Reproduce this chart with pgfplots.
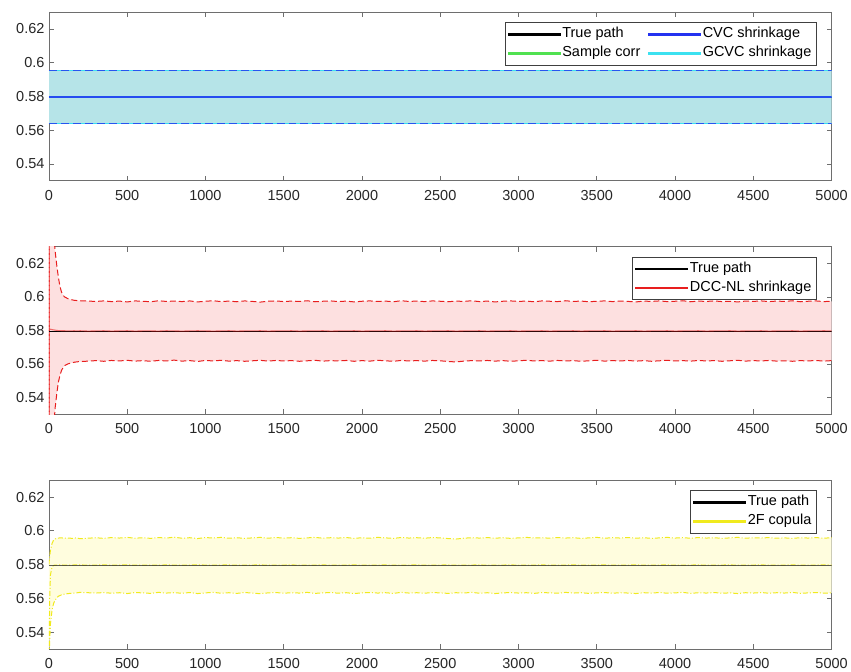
\documentclass[border=0pt]{standalone}
\usepackage{pgfplots}
\pgfplotsset{compat=1.18}
\usepackage{pgfplotstable}
\usepgfplotslibrary{fillbetween}
\usepackage{fontspec}
\setmainfont{Liberation Sans}

\definecolor{cvcblue}{RGB}{35,50,240}
\definecolor{gcvccyan}{RGB}{60,225,240}
\definecolor{samplegreen}{RGB}{80,225,80}
\definecolor{fillcyan}{RGB}{182,228,232}
\definecolor{dccred}{RGB}{232,30,30}
\definecolor{fillred}{RGB}{253,224,224}
\definecolor{copyel}{RGB}{240,234,30}
\definecolor{fillyel}{RGB}{255,253,222}
\definecolor{axgray}{RGB}{110,110,110}

% Panel 1: constant bands
\pgfplotstableread{
t up lo mid true
0 0.5952 0.5638 0.5796 0.5796
5000 0.5952 0.5638 0.5796 0.5796
}\cvcdata

% Panel 2: DCC-NL shrinkage
\pgfplotstableread{
t up lo mid
0 0.4000 0.7600 0.5810
2 0.8000 0.3600 0.5809
5 0.7200 0.4400 0.5808
10 0.6900 0.4700 0.5807
15 0.6700 0.4900 0.5806
20 0.6550 0.5040 0.5805
25 0.6450 0.5140 0.5804
30 0.6380 0.5220 0.5803
40 0.6270 0.5340 0.5802
50 0.6190 0.5420 0.5800
60 0.6120 0.5490 0.5799
70 0.6065 0.5530 0.5799
80 0.6030 0.5560 0.5798
90 0.6010 0.5578 0.5798
100 0.6000 0.5590 0.5798
120 0.5990 0.5600 0.5797
140 0.5984 0.5606 0.5797
160 0.5980 0.5610 0.5798
180 0.5978 0.5613 0.5797
200 0.5977 0.5614 0.5798
250 0.5975 0.5617 0.5796
300 0.5973 0.5620 0.5797
350 0.5976 0.5616 0.5798
400 0.5972 0.5621 0.5796
450 0.5975 0.5618 0.5797
500 0.5970 0.5622 0.5798
550 0.5976 0.5617 0.5796
600 0.5974 0.5620 0.5797
650 0.5971 0.5616 0.5797
700 0.5977 0.5621 0.5796
750 0.5973 0.5618 0.5798
800 0.5975 0.5623 0.5797
850 0.5972 0.5617 0.5796
900 0.5976 0.5620 0.5797
950 0.5970 0.5615 0.5798
1000 0.5974 0.5621 0.5797
1050 0.5977 0.5618 0.5796
1100 0.5972 0.5622 0.5797
1150 0.5975 0.5617 0.5798
1200 0.5971 0.5620 0.5796
1250 0.5976 0.5616 0.5797
1300 0.5973 0.5619 0.5797
1350 0.5969 0.5622 0.5798
1400 0.5974 0.5617 0.5796
1450 0.5976 0.5621 0.5797
1500 0.5972 0.5618 0.5797
1550 0.5975 0.5620 0.5798
1600 0.5973 0.5616 0.5796
1650 0.5977 0.5619 0.5797
1700 0.5971 0.5622 0.5797
1750 0.5974 0.5617 0.5798
1800 0.5976 0.5620 0.5796
1850 0.5972 0.5618 0.5797
1900 0.5975 0.5621 0.5797
1950 0.5970 0.5616 0.5798
2000 0.5974 0.5620 0.5796
2050 0.5976 0.5617 0.5797
2100 0.5973 0.5622 0.5797
2150 0.5975 0.5619 0.5798
2200 0.5971 0.5616 0.5796
2250 0.5977 0.5621 0.5797
2300 0.5973 0.5618 0.5797
2350 0.5975 0.5620 0.5798
2400 0.5972 0.5617 0.5796
2450 0.5976 0.5621 0.5797
2500 0.5974 0.5619 0.5797
2550 0.5971 0.5615 0.5798
2600 0.5975 0.5612 0.5796
2650 0.5973 0.5617 0.5797
2700 0.5977 0.5620 0.5797
2750 0.5972 0.5618 0.5798
2800 0.5975 0.5621 0.5796
2850 0.5970 0.5617 0.5797
2900 0.5974 0.5620 0.5797
2950 0.5976 0.5616 0.5798
3000 0.5973 0.5619 0.5796
3050 0.5975 0.5622 0.5797
3100 0.5971 0.5618 0.5797
3150 0.5976 0.5620 0.5798
3200 0.5974 0.5617 0.5796
3250 0.5972 0.5621 0.5797
3300 0.5977 0.5618 0.5797
3350 0.5973 0.5620 0.5798
3400 0.5975 0.5616 0.5796
3450 0.5971 0.5619 0.5797
3500 0.5974 0.5622 0.5797
3550 0.5976 0.5617 0.5798
3600 0.5972 0.5620 0.5796
3650 0.5975 0.5618 0.5797
3700 0.5973 0.5621 0.5797
3750 0.5970 0.5617 0.5798
3800 0.5975 0.5620 0.5796
3850 0.5973 0.5616 0.5797
3900 0.5976 0.5619 0.5797
3950 0.5972 0.5622 0.5798
4000 0.5974 0.5618 0.5796
4050 0.5977 0.5620 0.5797
4100 0.5971 0.5617 0.5797
4150 0.5975 0.5621 0.5798
4200 0.5973 0.5618 0.5796
4250 0.5976 0.5620 0.5797
4300 0.5972 0.5616 0.5797
4350 0.5974 0.5619 0.5798
4400 0.5970 0.5622 0.5796
4450 0.5975 0.5617 0.5797
4500 0.5973 0.5620 0.5797
4550 0.5976 0.5618 0.5798
4600 0.5972 0.5621 0.5796
4650 0.5975 0.5617 0.5797
4700 0.5973 0.5619 0.5797
4750 0.5977 0.5616 0.5798
4800 0.5971 0.5620 0.5796
4850 0.5974 0.5618 0.5797
4900 0.5976 0.5621 0.5797
4950 0.5972 0.5617 0.5798
5000 0.5974 0.5620 0.5797
}\dccdata

% Panel 3: 2F copula
\pgfplotstableread{
t up lo mid
0 0.5800 0.5200 0.5200
5 0.5850 0.5350 0.5600
10 0.5885 0.5450 0.5740
20 0.5925 0.5530 0.5785
30 0.5945 0.5570 0.5795
40 0.5952 0.5590 0.5797
60 0.5957 0.5612 0.5797
80 0.5958 0.5620 0.5798
100 0.5956 0.5625 0.5796
125 0.5957 0.5628 0.5797
150 0.5955 0.5630 0.5797
175 0.5958 0.5632 0.5798
200 0.5953 0.5635 0.5798
250 0.5956 0.5633 0.5796
300 0.5959 0.5631 0.5797
350 0.5955 0.5634 0.5798
400 0.5960 0.5630 0.5796
450 0.5957 0.5633 0.5797
500 0.5961 0.5628 0.5798
550 0.5956 0.5634 0.5796
600 0.5959 0.5632 0.5797
650 0.5955 0.5629 0.5797
700 0.5960 0.5635 0.5796
750 0.5957 0.5631 0.5798
800 0.5962 0.5633 0.5797
850 0.5956 0.5630 0.5796
900 0.5959 0.5634 0.5797
950 0.5954 0.5628 0.5798
1000 0.5960 0.5632 0.5797
1050 0.5957 0.5635 0.5796
1100 0.5961 0.5630 0.5797
1150 0.5956 0.5633 0.5798
1200 0.5959 0.5629 0.5796
1250 0.5955 0.5634 0.5797
1300 0.5958 0.5631 0.5797
1350 0.5961 0.5627 0.5798
1400 0.5956 0.5632 0.5796
1450 0.5960 0.5634 0.5797
1500 0.5957 0.5630 0.5797
1550 0.5959 0.5633 0.5798
1600 0.5955 0.5631 0.5796
1650 0.5958 0.5635 0.5797
1700 0.5961 0.5629 0.5797
1750 0.5956 0.5632 0.5798
1800 0.5959 0.5634 0.5796
1850 0.5957 0.5630 0.5797
1900 0.5960 0.5633 0.5797
1950 0.5955 0.5628 0.5798
2000 0.5959 0.5632 0.5796
2050 0.5956 0.5634 0.5797
2100 0.5961 0.5631 0.5797
2150 0.5958 0.5633 0.5798
2200 0.5955 0.5629 0.5796
2250 0.5960 0.5635 0.5797
2300 0.5957 0.5631 0.5797
2350 0.5959 0.5633 0.5798
2400 0.5956 0.5630 0.5796
2450 0.5960 0.5634 0.5797
2500 0.5958 0.5632 0.5797
2550 0.5954 0.5629 0.5798
2600 0.5951 0.5633 0.5796
2650 0.5956 0.5631 0.5797
2700 0.5959 0.5635 0.5797
2750 0.5957 0.5630 0.5798
2800 0.5960 0.5633 0.5796
2850 0.5956 0.5628 0.5797
2900 0.5959 0.5632 0.5797
2950 0.5955 0.5634 0.5798
3000 0.5958 0.5631 0.5796
3050 0.5961 0.5633 0.5797
3100 0.5957 0.5629 0.5797
3150 0.5959 0.5634 0.5798
3200 0.5956 0.5632 0.5796
3250 0.5960 0.5630 0.5797
3300 0.5957 0.5635 0.5797
3350 0.5959 0.5631 0.5798
3400 0.5955 0.5633 0.5796
3450 0.5958 0.5629 0.5797
3500 0.5961 0.5632 0.5797
3550 0.5956 0.5634 0.5798
3600 0.5959 0.5630 0.5796
3650 0.5957 0.5633 0.5797
3700 0.5960 0.5631 0.5797
3750 0.5956 0.5628 0.5798
3800 0.5959 0.5633 0.5796
3850 0.5955 0.5631 0.5797
3900 0.5958 0.5634 0.5797
3950 0.5961 0.5630 0.5798
4000 0.5957 0.5632 0.5796
4050 0.5959 0.5635 0.5797
4100 0.5956 0.5629 0.5797
4150 0.5960 0.5633 0.5798
4200 0.5957 0.5631 0.5796
4250 0.5959 0.5634 0.5797
4300 0.5955 0.5630 0.5797
4350 0.5958 0.5632 0.5798
4400 0.5961 0.5628 0.5796
4450 0.5956 0.5633 0.5797
4500 0.5959 0.5631 0.5797
4550 0.5957 0.5634 0.5798
4600 0.5960 0.5630 0.5796
4650 0.5956 0.5633 0.5797
4700 0.5958 0.5631 0.5797
4750 0.5955 0.5635 0.5798
4800 0.5959 0.5629 0.5796
4850 0.5957 0.5632 0.5797
4900 0.5960 0.5634 0.5797
4950 0.5956 0.5630 0.5798
5000 0.5959 0.5632 0.5797
}\copdata

\pgfplotsset{
  panel/.style={
    width=784pt, height=169pt, scale only axis,
    xmin=0, xmax=5000, ymin=0.53, ymax=0.63,
    xtick={0,500,...,5000},
    ytick={0.54,0.56,0.58,0.6,0.62},
    scaled x ticks=false, scaled y ticks=false,
    /pgf/number format/1000 sep={},
    /pgf/number format/assume math mode=true,
    axis line style={axgray, line width=0.6pt},
    every tick/.style={axgray, line width=0.6pt},
    tick align=inside, major tick length=5pt,
    ticklabel style={font=\fontsize{14.5}{17}\selectfont, text=black!85},
    xticklabel style={yshift=-6pt},
    yticklabel style={xshift=-1pt},
    legend cell align=left,
    legend style={at={(1,1)}, anchor=north east, xshift=-15pt, yshift=-10pt,
      draw=black!75, line width=0.5pt, fill=white, solid,
      font=\fontsize{14.5}{17}\selectfont,
      inner xsep=3pt, inner ysep=2.5pt,
      nodes={text height=10pt, text depth=3pt, inner ysep=3pt, inner xsep=2pt},
      /tikz/every even column/.append style={column sep=6pt}},
  }
}
% legend swatch drawn as a thin filled bar (independent of stroke state)
\newcommand{\legbar}[1]{\addlegendimage{legend image code/.code={\fill[#1, fill opacity=1] (0pt,-0.8pt) rectangle (52pt,0.8pt);}}}

\begin{document}
\begin{tikzpicture}
\path (0pt,0pt) rectangle (851pt,673pt);

% ---------- Panel 1 ----------
\begin{axis}[panel, at={(49pt,492pt)}, anchor=south west, legend columns=2]
\legbar{black}
\addlegendentry{True path}
\legbar{cvcblue}
\addlegendentry{CVC shrinkage}
\legbar{samplegreen}
\addlegendentry{Sample corr}
\legbar{gcvccyan}
\addlegendentry{GCVC shrinkage}
\addplot[name path=u1, draw=none, forget plot] table[x=t,y=up] {\cvcdata};
\addplot[name path=l1, draw=none, forget plot] table[x=t,y=lo] {\cvcdata};
\addplot[fill=fillcyan, draw=none, forget plot] fill between[of=u1 and l1];
\addplot[draw=black, line width=0.7pt, forget plot] table[x=t,y=true] {\cvcdata};
\addplot[draw=gcvccyan, line width=1.6pt, forget plot] table[x=t,y=mid] {\cvcdata};
\addplot[draw=cvcblue, draw opacity=0.85, line width=1.1pt, forget plot] table[x=t,y=mid] {\cvcdata};
\addplot[draw=gcvccyan, line width=1.4pt, forget plot] table[x=t,y=up] {\cvcdata};
\addplot[draw=gcvccyan, line width=1.4pt, forget plot] table[x=t,y=lo] {\cvcdata};
\addplot[draw=cvcblue, draw opacity=0.8, line width=1.2pt, dash pattern=on 8pt off 4pt, forget plot] table[x=t,y=up] {\cvcdata};
\addplot[draw=cvcblue, draw opacity=0.8, line width=1.2pt, dash pattern=on 8pt off 4pt, forget plot] table[x=t,y=lo] {\cvcdata};
\end{axis}

% ---------- Panel 2 ----------
\begin{axis}[panel, at={(49pt,258pt)}, anchor=south west, height=168pt]
\legbar{black}
\addlegendentry{True path}
\legbar{dccred}
\addlegendentry{DCC-NL shrinkage}
\addplot[name path=u2, draw=none, forget plot] table[x=t,y=up] {\dccdata};
\addplot[name path=l2, draw=none, forget plot] table[x=t,y=lo] {\dccdata};
\addplot[fill=fillred, draw=none, forget plot] fill between[of=u2 and l2];
\addplot[draw=dccred, line width=1pt, dash pattern=on 6pt off 3pt, forget plot] table[x=t,y=up] {\dccdata};
\addplot[draw=dccred, line width=1pt, dash pattern=on 6pt off 3pt, forget plot] table[x=t,y=lo] {\dccdata};
\addplot[draw=black, line width=0.9pt, forget plot] coordinates {(0,0.5796) (5000,0.5796)};
\addplot[draw=dccred, draw opacity=0.6, line width=1.1pt, forget plot] table[x=t,y=mid] {\dccdata};
\end{axis}

% ---------- Panel 3 ----------
\begin{axis}[panel, at={(49pt,23pt)}, anchor=south west]
\legbar{black}
\addlegendentry{True path}
\legbar{copyel}
\addlegendentry{2F copula}
\addplot[name path=u3, draw=none, forget plot] table[x=t,y=up] {\copdata};
\addplot[name path=l3, draw=none, forget plot] table[x=t,y=lo] {\copdata};
\addplot[fill=fillyel, draw=none, forget plot] fill between[of=u3 and l3];
\addplot[draw=copyel, line width=1pt, dash pattern=on 5pt off 2pt on 1pt off 2pt, forget plot] table[x=t,y=up] {\copdata};
\addplot[draw=copyel, line width=1pt, dash pattern=on 5pt off 2pt on 1pt off 2pt, forget plot] table[x=t,y=lo] {\copdata};
\addplot[draw=copyel, line width=1pt, dash pattern=on 5pt off 2pt on 1pt off 2pt, forget plot] table[x=t,y=mid] {\copdata};
\addplot[draw=black!85, draw opacity=0.75, line width=0.7pt, forget plot] coordinates {(0,0.5797) (5000,0.5797)};
\end{axis}
\end{tikzpicture}
\end{document}
